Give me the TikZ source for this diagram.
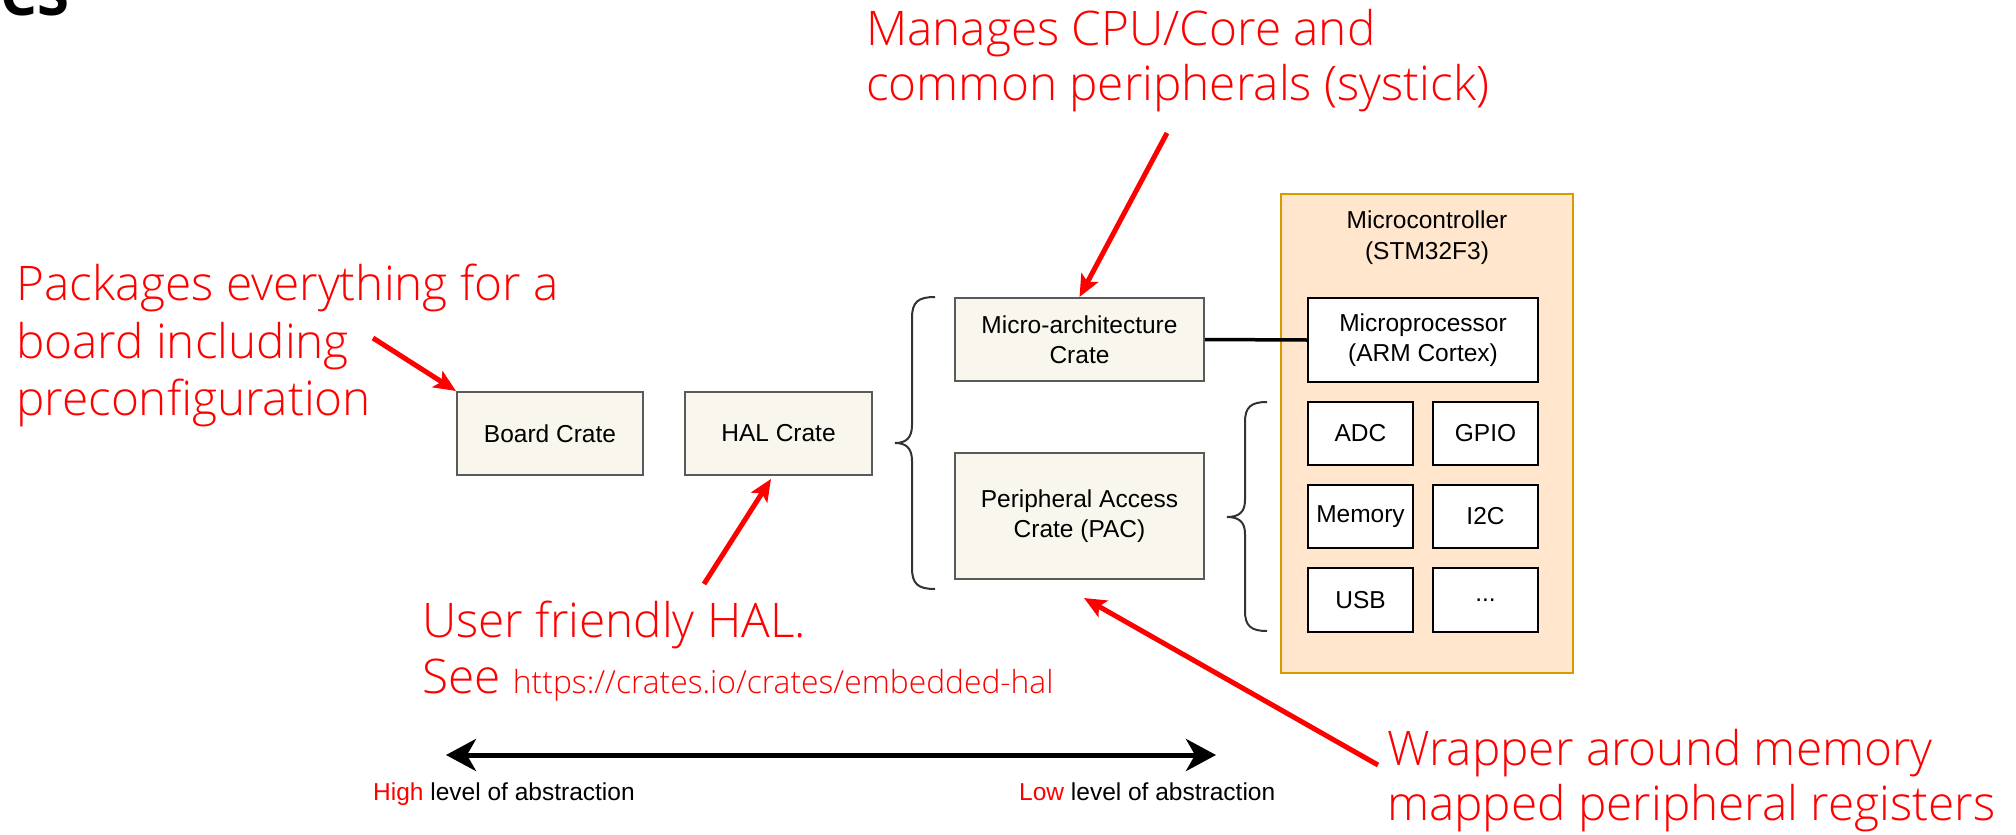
\documentclass[tikz,border=0pt]{standalone}
\usepackage{fontspec}
\setmainfont{Liberation Sans}
\newfontfamily\osans{Open Sans Light}
\newfontfamily\osansreg{Open Sans}
\usetikzlibrary{arrows.meta,calc}
\definecolor{cratefill}{HTML}{F9F7ED}
\definecolor{crateline}{HTML}{5A5A5A}
\definecolor{mcufill}{HTML}{FFE6CC}
\definecolor{mculine}{HTML}{D79B00}
\definecolor{notered}{HTML}{FF0000}
\definecolor{bracecol}{HTML}{333333}
\tikzset{
  boxfont/.style={font=\fontsize{24.5}{30}\selectfont},
  crate/.style={boxfont, draw=crateline, fill=cratefill, line width=2pt, inner sep=0pt, align=center},
  chip/.style={boxfont, draw=black, fill=white, line width=2.2pt, inner sep=0pt, align=center},
  mcubox/.style={draw=mculine, fill=mcufill, line width=2pt, inner sep=0pt},
  note/.style={text=notered, font=\osans\fontsize{47.7}{56}\selectfont, anchor=base west, inner sep=0pt},
  redarrow/.style={draw=notered, line width=5pt, -{Stealth[length=22pt,width=19pt,inset=5pt]}},
  bracepath/.style={draw=bracecol, line width=2pt},
  scale label/.style={boxfont, anchor=base west, inner sep=0pt},
}
\begin{document}
\begin{tikzpicture}[x=1pt,y=-1pt]
\useasboundingbox (0,0) rectangle (2016,835);

% partial title at top left
\node[anchor=base west, inner sep=0pt, font=\osansreg\bfseries\fontsize{58}{60}\selectfont] (title) at (0,15) {CS};

% crates
\node[crate, minimum width=186pt, minimum height=83pt] (board) at (550,433.5) {Board Crate};
\node[crate, minimum width=187pt, minimum height=83pt] (hal) at (778.5,433.5) {HAL Crate};
\node[crate, minimum width=249pt, minimum height=83pt] (micro) at (1079.5,339.5) {Micro-architecture\\Crate};
\node[crate, minimum width=249pt, minimum height=126pt] (pac) at (1079.5,516) {Peripheral Access\\Crate (PAC)};

% microcontroller
\node[mcubox, minimum width=292pt, minimum height=479pt] (mcu) at (1427,433.5) {};
\node[boxfont, align=center, font=\fontsize{24.5}{31}\selectfont, inner sep=0pt] (mcutitle) at (1427,238) {Microcontroller\\(STM32F3)};
\node[chip, minimum width=230pt, minimum height=84pt] (mproc) at (1423,340) {Microprocessor\\(ARM Cortex)};
\node[chip, minimum width=105pt, minimum height=63pt] (adc) at (1360.5,433.5) {ADC};
\node[chip, minimum width=105pt, minimum height=63pt] (gpio) at (1485.5,433.5) {GPIO};
\node[chip, minimum width=105pt, minimum height=63pt] (mem) at (1360.5,516.5) {Memory};
\node[chip, minimum width=105pt, minimum height=63pt] (i2c) at (1485.5,516.5) {I2C};
\node[chip, minimum width=105pt, minimum height=64pt] (usb) at (1360.5,600) {USB};
\node[chip, minimum width=105pt, minimum height=64pt] (more) at (1485.5,600) {...};

% link micro-architecture crate -> microprocessor
\draw[line width=3.5pt] (micro.east) -- (mproc.west);

% braces
\draw[bracepath] (935,297) .. controls (918,297) and (912,302) .. (912,318) -- (912,425)
  .. controls (912,438) and (906,443) .. (895,443)
  .. controls (906,443) and (912,448) .. (912,461) -- (912,568)
  .. controls (912,584) and (918,589) .. (935,589);
\draw[bracepath] (1267,402) .. controls (1251,402) and (1245,407) .. (1245,422) -- (1245,500)
  .. controls (1245,512) and (1239,517) .. (1227,517)
  .. controls (1239,517) and (1245,522) .. (1245,534) -- (1245,611)
  .. controls (1245,626) and (1251,631) .. (1267,631);

% annotations
\node[note] (n1a) at (866,45) {Manages CPU/Core and};
\node[note] (n1b) at (866,100) {common peripherals (systick)};
\node[note] (n2a) at (16,300) {Packages everything for a};
\node[note] (n2b) at (16,358) {board including};
\node[note] (n2c) at (16,415) {preconfiguration};
\node[note] (n3a) at (422,637) {User friendly HAL.};
\node[note] (n3b) at (422,693) {See {\fontsize{31.8}{36}\selectfont https://crates.io/crates/embedded-hal}};
\node[note] (n4a) at (1387,765) {Wrapper around memory};
\node[note] (n4b) at (1387,820) {mapped peripheral registers};

% annotation arrows
\coordinate (t1) at (1167,133);
\coordinate (t2) at (373,338);
\coordinate (t3) at (704,584);
\coordinate (h3) at (771,479);
\coordinate (t4) at (1378,765);
\coordinate (h4) at (1084,598);
\draw[redarrow] (t1) -- (micro.north);
\draw[redarrow] (t2) -- (board.north west);
\draw[redarrow] (t3) -- (h3);
\draw[redarrow] (t4) -- (h4);

% abstraction scale
\coordinate (hi) at (446,755);
\coordinate (lo) at (1216,755);
\draw[line width=5pt, {Stealth[length=30pt,width=32pt,inset=9pt]}-{Stealth[length=30pt,width=32pt,inset=9pt]}] (hi) -- (lo);
\node[scale label] (hilabel) at (373,800) {\textcolor{notered}{High} level of abstraction};
\node[scale label] (lolabel) at (1019,800) {\textcolor{notered}{Low} level of abstraction};
\end{tikzpicture}
\end{document}
